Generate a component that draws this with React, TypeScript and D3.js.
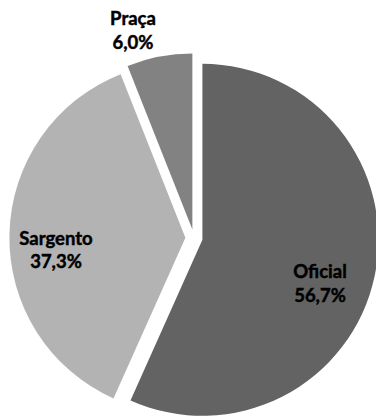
import React from "react";
import * as d3 from "d3";

const categories = ["Oficial", "Sargento", "Praça"];
const values = [56.7, 37.3, 6.0];
const valueLabels = ["56,7%", "37,3%", "6,0%"];

const W = 376;
const H = 417;
const CX = 194;
const CY = 238;
const R = 176;
const EXPLODE = 8.6;
const colors = ["#636363", "#b3b3b3", "#828282"];
// label anchor (center x, first baseline y)
const labelPos: [number, number][] = [
  [320, 278],
  [56, 244.5],
  [133, 25],
];
const LINE = 23.8;

export default function App() {
  const pie = d3
    .pie<number>()
    .sort(null)
    .startAngle(0)
    .endAngle(2 * Math.PI)
    .value((d) => d);
  const arcs = pie(values);
  const arc = d3.arc<d3.PieArcDatum<number>>().innerRadius(0).outerRadius(R);
  return (
    <svg
      width={W}
      height={H}
      style={{ position: "absolute", left: 0, top: 0, background: "#fff" }}
    >
      <g transform={`translate(${CX},${CY})`}>
        {arcs.map((a, i) => {
          const mid = (a.startAngle + a.endAngle) / 2;
          const dx = EXPLODE * Math.sin(mid);
          const dy = -EXPLODE * Math.cos(mid);
          return (
            <path
              key={categories[i]}
              d={arc(a) || ""}
              fill={colors[i]}
              transform={`translate(${dx},${dy})`}
            />
          );
        })}
      </g>
      {categories.map((c, i) => (
        <text
          key={c}
          x={labelPos[i][0]}
          y={labelPos[i][1]}
          textAnchor="middle"
          fontFamily="Lato, 'Open Sans', sans-serif"
          fontWeight={700}
          fontSize={18.5}
          fill="#000"
          stroke="#000"
          strokeWidth={0.45}
        >
          <tspan x={labelPos[i][0]}>{c}</tspan>
          <tspan x={labelPos[i][0]} dy={LINE}>
            {valueLabels[i]}
          </tspan>
        </text>
      ))}
    </svg>
  );
}
